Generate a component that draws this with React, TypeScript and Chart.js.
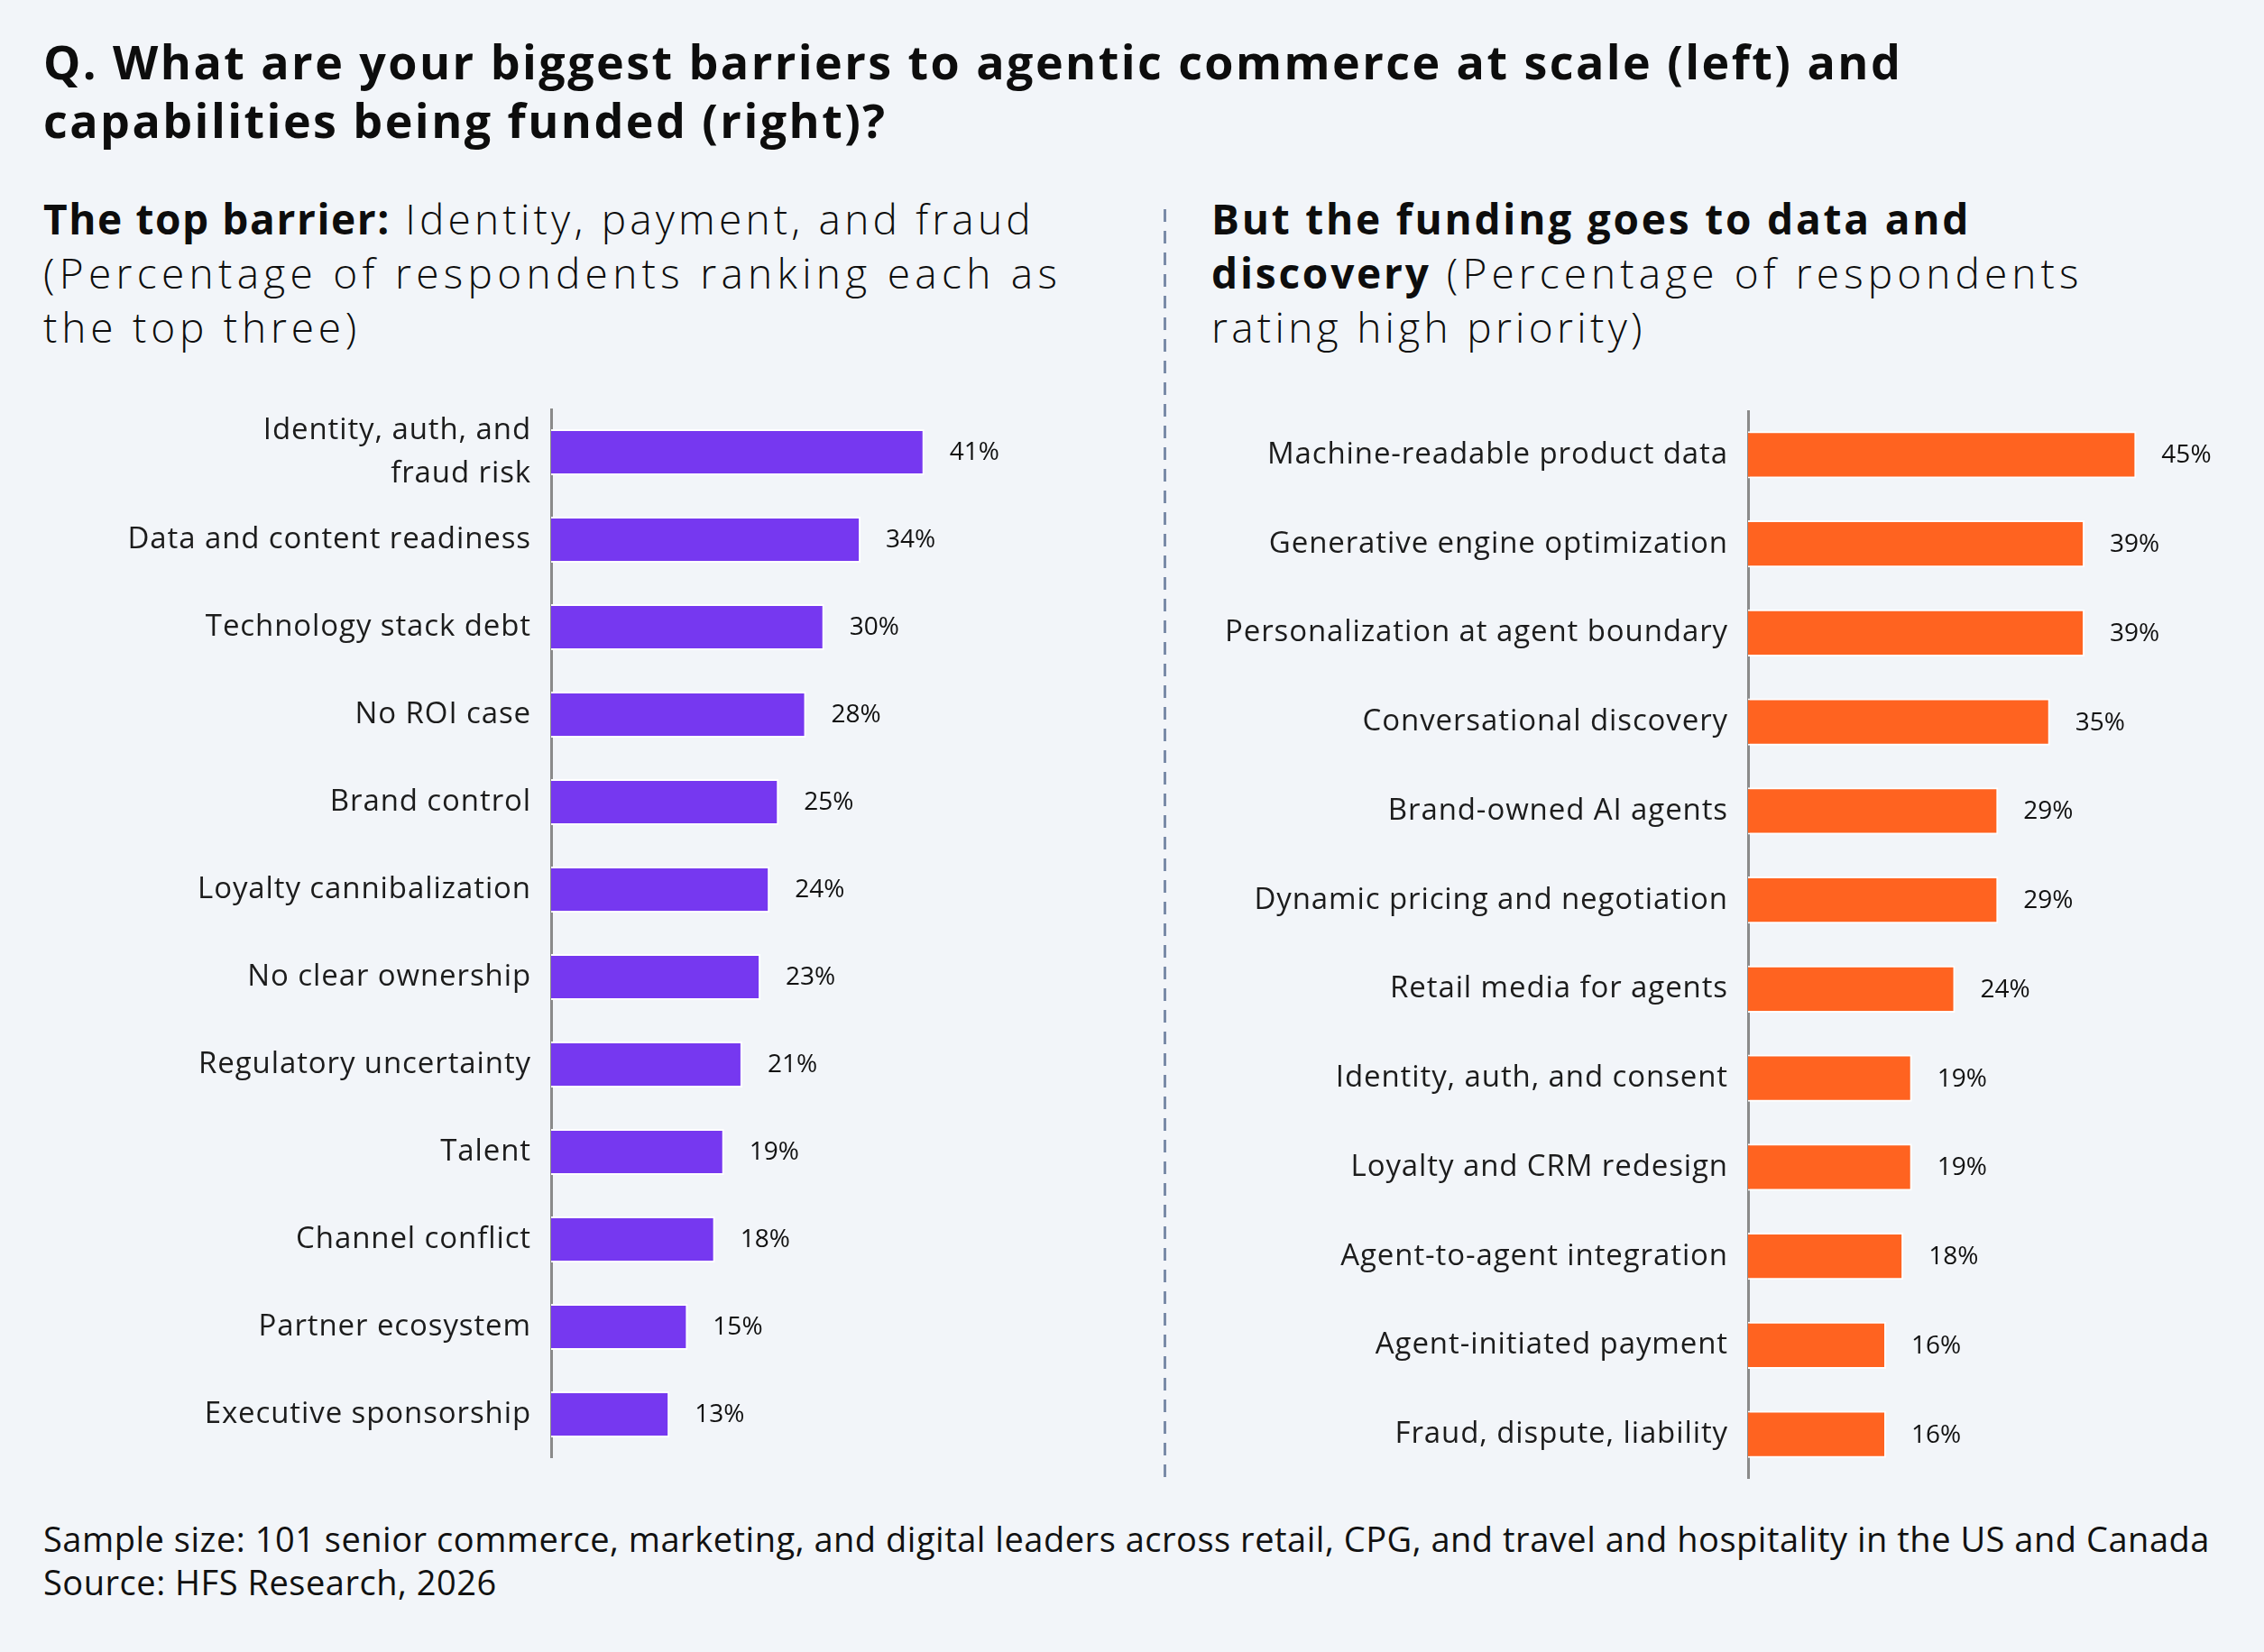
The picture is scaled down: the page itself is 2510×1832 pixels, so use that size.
import React, { useEffect, useRef } from "react";
import { Chart, registerables } from "chart.js";

Chart.register(...registerables);

// Barriers to agentic commerce at scale (share ranking each in their top three)
const barrierLabels: (string | string[])[] = [
  ["Identity, auth, and", "fraud risk"],
  "Data and content readiness",
  "Technology stack debt",
  "No ROI case",
  "Brand control",
  "Loyalty cannibalization",
  "No clear ownership",
  "Regulatory uncertainty",
  "Talent",
  "Channel conflict",
  "Partner ecosystem",
  "Executive sponsorship",
];
const barrierValues = [41, 34, 30, 28, 25, 24, 23, 21, 19, 18, 15, 13];

// Capabilities being funded (share rating each a high priority)
const fundingLabels: string[] = [
  "Machine-readable product data",
  "Generative engine optimization",
  "Personalization at agent boundary",
  "Conversational discovery",
  "Brand-owned AI agents",
  "Dynamic pricing and negotiation",
  "Retail media for agents",
  "Identity, auth, and consent",
  "Loyalty and CRM redesign",
  "Agent-to-agent integration",
  "Agent-initiated payment",
  "Fraud, dispute, liability",
];
const fundingValues = [45, 39, 39, 35, 29, 29, 24, 19, 19, 18, 16, 16];

const FONT = "'Open Sans', 'Noto Sans', sans-serif";
const BG = "#f2f5f9";

// Slightly widened lettering for the category labels
const letterSpacingPlugin = {
  id: "tickSpacing",
  beforeDraw(chart: any) {
    (chart.ctx as any).letterSpacing = "0.9px";
  },
};

const valueLabelPlugin = {
  id: "valueLabels",
  afterDatasetsDraw(chart: any) {
    const ctx = chart.ctx;
    const meta = chart.getDatasetMeta(0);
    const data = chart.data.datasets[0].data as number[];
    ctx.save();
    (ctx as any).letterSpacing = "0px";
    ctx.font = `400 28px ${FONT}`;
    ctx.fillStyle = "#111111";
    ctx.textAlign = "left";
    ctx.textBaseline = "middle";
    meta.data.forEach((bar: any, i: number) => {
      ctx.fillText(`${data[i]}%`, bar.x + 28, bar.y + 1);
    });
    ctx.restore();
  },
};

type BarProps = {
  labels: (string | string[])[];
  values: number[];
  color: string;
  axisWidth: number;
  max: number;
  style: React.CSSProperties;
  width: number;
  height: number;
};

function BarPanel({ labels, values, color, axisWidth, max, style, width, height }: BarProps) {
  const ref = useRef<HTMLCanvasElement | null>(null);
  useEffect(() => {
    if (!ref.current) return;
    const chart = new Chart(ref.current, {
      type: "bar",
      data: {
        labels,
        datasets: [
          {
            data: values,
            backgroundColor: color,
            borderColor: "#ffffff",
            borderWidth: 2,
            borderSkipped: "start",
            barPercentage: 1,
            categoryPercentage: 0.527,
          },
        ],
      },
      options: {
        indexAxis: "y",
        responsive: false,
        animation: false,
        maintainAspectRatio: false,
        layout: { padding: 0 },
        plugins: {
          legend: { display: false },
          tooltip: { enabled: false },
        },
        scales: {
          x: {
            display: false,
            min: 0,
            max,
          },
          y: {
            grid: { display: false, drawTicks: false },
            border: { display: true, color: "#8a8a8a", width: 3 },
            ticks: {
              autoSkip: false,
              color: "#1c1c1c",
              padding: 22,
              font: { family: FONT, size: 33, lineHeight: 1.45 },
            },
            afterFit(scale: any) {
              scale.width = axisWidth;
              scale.paddingTop = 0;
              scale.paddingBottom = 0;
            },
          },
        },
      },
      plugins: [letterSpacingPlugin, valueLabelPlugin],
    });
    return () => chart.destroy();
  }, []);
  return (
    <div style={{ position: "absolute", width, height, ...style }}>
      <canvas ref={ref} width={width} height={height} style={{ width, height, display: "block" }} />
    </div>
  );
}

export default function App() {
  const titleStyle: React.CSSProperties = {
    position: "absolute",
    left: 48,
    top: 35,
    fontFamily: FONT,
    fontWeight: 700,
    fontSize: 52,
    letterSpacing: "2.45px",
    lineHeight: "65px",
    color: "#0d0d0d",
    whiteSpace: "nowrap",
    margin: 0,
  };
  const subStyle: React.CSSProperties = {
    position: "absolute",
    top: 212,
    fontFamily: FONT,
    fontWeight: 300,
    fontSize: 46,
    letterSpacing: "4.8px",
    lineHeight: "60px",
    color: "#0d0d0d",
    whiteSpace: "nowrap",
  };
  const bold: React.CSSProperties = { fontWeight: 700, letterSpacing: "2.8px" };
  return (
    <div
      style={{
        position: "fixed",
        left: 0,
        top: 0,
        width: 2510,
        height: 1832,
        background: BG,
        overflow: "hidden",
      }}
    >
      <div style={titleStyle}>
        Q. What are your biggest barriers to agentic commerce at scale (left) and
        <br />
        capabilities being funded (right)?
      </div>

      <div style={{ ...subStyle, left: 48 }}>
        <span style={{ ...bold, letterSpacing: "1.6px" }}>The top barrier:</span>
        <span style={{ letterSpacing: "4.2px" }}> Identity, payment, and fraud</span>
        <br />
        <span style={{ letterSpacing: "5.3px" }}>(Percentage of respondents ranking each as</span>
        <br />
        the top three)
      </div>

      <div style={{ ...subStyle, left: 1343 }}>
        <span style={bold}>But the funding goes to data and</span>
        <br />
        <span style={bold}>discovery</span>
        <span style={{ letterSpacing: "5.1px" }}> (Percentage of respondents</span>
        <br />
        <span style={{ letterSpacing: "4.3px" }}>rating high priority)</span>
      </div>

      <div
        style={{
          position: "absolute",
          left: 1290,
          top: 232,
          width: 3,
          height: 1408,
          background:
            "repeating-linear-gradient(to bottom, #7a8ba8 0px, #7a8ba8 14px, transparent 14px, transparent 24px)",
        }}
      />

      <BarPanel
        labels={barrierLabels}
        values={barrierValues}
        color="#7638f0"
        axisWidth={611}
        max={55}
        width={1166}
        height={1164}
        style={{ left: 0, top: 453 }}
      />

      <BarPanel
        labels={fundingLabels}
        values={fundingValues}
        color="#ff6320"
        axisWidth={638}
        max={55}
        width={1164}
        height={1185}
        style={{ left: 1300, top: 455 }}
      />

      <div
        style={{
          position: "absolute",
          left: 48,
          top: 1682,
          fontFamily: FONT,
          fontWeight: 400,
          fontSize: 38,
          letterSpacing: "0.52px",
          lineHeight: "48px",
          color: "#111111",
          whiteSpace: "nowrap",
        }}
      >
        Sample size: 101 senior commerce, marketing, and digital leaders across retail, CPG, and travel and hospitality in the US and Canada
        <br />
        Source: HFS Research, 2026
      </div>
    </div>
  );
}
